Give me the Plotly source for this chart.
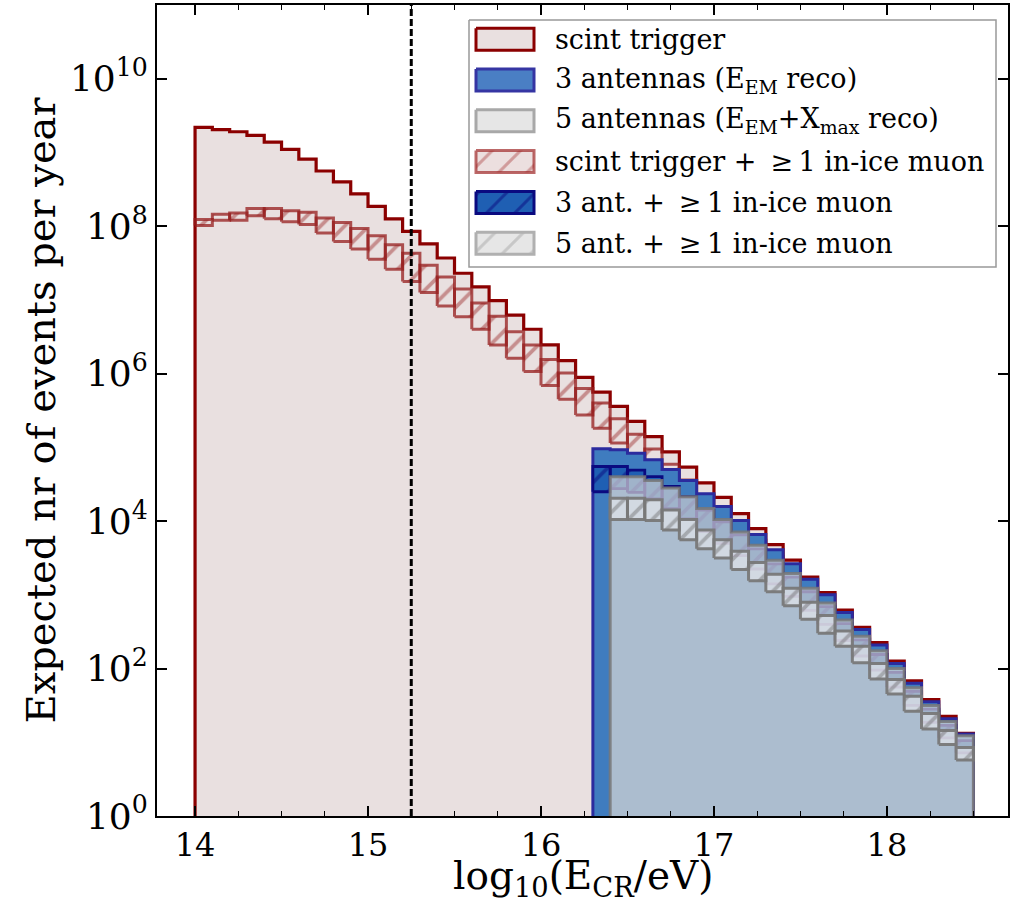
import plotly.graph_objects as go

# ---------------- data ----------------
BIN_START = 14.0          # lower edge of first log10(E/eV) bin
BIN_WIDTH = 0.1
N_BINS = 45               # 14.0 ... 18.5
THRESHOLD = 15.25         # vertical dashed line

# scint trigger (bins 14.0 .. 18.4)
scint_trigger = [2.19e9, 2.04e9, 1.91e9, 1.70e9, 1.38e9, 1.10e9, 8.1e8, 5.6e8, 4.0e8, 2.75e8,
                 1.86e8, 1.26e8, 8.5e7, 5.75e7, 3.7e7, 2.3e7, 1.5e7, 9.8e6, 6.2e6, 4.0e6,
                 2.45e6, 1.5e6, 8.9e5, 5.6e5, 3.6e5, 2.25e5, 1.4e5, 8.7e4, 5.4e4, 3.3e4,
                 2.1e4, 1.26e4, 7.9e3, 4.8e3, 2.95e3, 1.74e3, 1.07e3, 620, 363, 224,
                 126, 68, 38, 22.4, 13.2]
# scint trigger + >=1 in-ice muon (upper / lower edge of band, bins 14.0 .. 18.4)
scint_muon_hi = [1.23e8, 1.45e8, 1.51e8, 1.74e8, 1.74e8, 1.62e8, 1.55e8, 1.29e8, 1.12e8, 9.3e7,
                 7.4e7, 5.6e7, 4.3e7, 2.95e7, 2.04e7, 1.41e7, 9.1e6, 6.0e6, 3.7e6, 2.45e6,
                 1.55e6, 1.02e6, 6.3e5, 4.0e5, 2.45e5, 1.51e5, 9.5e4, 5.9e4, 3.6e4, 2.24e4,
                 1.41e4, 8.7e3, 5.5e3, 3.3e3, 2.04e3, 1.20e3, 740, 427, 251, 155,
                 87, 47, 26.3, 15.5, 9.1]
scint_muon_lo = [1.02e8, 1.20e8, 1.20e8, 1.38e8, 1.26e8, 1.15e8, 1.05e8, 8.1e7, 6.2e7, 4.9e7,
                 3.55e7, 2.6e7, 1.78e7, 1.26e7, 8.3e6, 5.9e6, 4.0e6, 2.45e6, 1.62e6, 1.07e6,
                 6.9e5, 4.5e5, 2.75e5, 1.82e5, 1.15e5, 7.2e4, 4.6e4, 2.8e4, 1.78e4, 1.10e4,
                 7.1e3, 4.5e3, 2.8e3, 1.74e3, 1.10e3, 660, 417, 245, 148, 93,
                 54, 29.5, 17, 10.2, 6.2]
# 3 antennas (E_EM reco), bins 16.3 .. 18.4
ANT3_START = 16.3
ant3 = [9.6e4, 9.3e4, 8.3e4, 6.8e4, 5.0e4, 3.55e4, 2.34e4, 1.58e4, 1.02e4, 6.6e3,
        4.1e3, 2.63e3, 1.62e3, 1.0e3, 575, 339, 209, 117, 63, 35.5, 20.9, 12.9]
ant3_muon_hi = [5.5e4, 5.5e4, 4.9e4, 4.0e4, 2.95e4, 2.14e4, 1.41e4, 9.8e3, 6.5e3, 4.2e3,
                2.63e3, 1.74e3, 1.10e3, 692, 407, 245, 155, 89, 49, 28.2, 17, 10.5]
ant3_muon_lo = [2.5e4, 2.75e4, 2.45e4, 2.0e4, 1.48e4, 1.07e4, 7.2e3, 5.0e3, 3.4e3, 2.24e3,
                1.41e3, 955, 617, 398, 240, 148, 95, 56, 31.6, 18.6, 11.5, 7.2]
# 5 antennas (E_EM + Xmax reco), bins 16.4 .. 18.4
ANT5_START = 16.4
ant5 = [4.0e4, 4.0e4, 3.55e4, 2.8e4, 2.14e4, 1.48e4, 1.05e4, 7.1e3, 4.7e3, 2.95e3,
        1.95e3, 1.23e3, 776, 457, 275, 174, 100, 55, 31.6, 19.1, 12.3]
ant5_muon_hi = [2.04e4, 2.04e4, 1.95e4, 1.41e4, 1.05e4, 7.6e3, 5.6e3, 3.9e3, 2.75e3, 1.9e3,
                1.23e3, 794, 525, 324, 200, 117, 71, 42, 24.5, 14.5, 8.5]
ant5_muon_lo = [1.05e4, 1.05e4, 1.02e4, 7.6e3, 5.6e3, 4.2e3, 3.16e3, 2.2e3, 1.55e3, 1.1e3,
                708, 468, 302, 200, 120, 72, 45, 26.3, 15.1, 9.3, 5.75]

x_tick_vals = [14, 15, 16, 17, 18]
y_tick_vals = [1e0, 1e2, 1e4, 1e6, 1e8, 1e10]
y_tick_text = ["10<sup>0</sup>", "10<sup>2</sup>", "10<sup>4</sup>", "10<sup>6</sup>",
               "10<sup>8</sup>", "10<sup>10</sup>"]
x_title = "log<sub>10</sub>(E<sub>CR</sub>/eV)"
y_title = "Expected nr of events per year"

legend_labels = [
    "scint trigger",
    "3 antennas (E<sub>EM</sub> reco)",
    "5 antennas (E<sub>EM</sub>+X<sub>max</sub> reco)",
    "scint trigger + \u2009\u2265\u20091 in-ice muon",
    "3 ant. + \u2009\u2265\u20091 in-ice muon",
    "5 ant. + \u2009\u2265\u20091 in-ice muon",
]

# ---------------- helpers ----------------
edges = [round(BIN_START + BIN_WIDTH * i, 2) for i in range(N_BINS + 1)]
FLOOR = 0.05  # below the visible range, clipped away


def idx(e):
    return int(round((e - BIN_START) / BIN_WIDTH))


def step_poly(start, vals):
    s = idx(start)
    xs, ys = [edges[s]], [FLOOR]
    for k, v in enumerate(vals):
        xs += [edges[s + k], edges[s + k + 1]]
        ys += [v, v]
    xs.append(edges[s + len(vals)])
    ys.append(FLOOR)
    return xs, ys


def box_poly(start, hi, lo):
    s = idx(start)
    xs, ys = [], []
    for k, (h, l) in enumerate(zip(hi, lo)):
        a, b = edges[s + k], edges[s + k + 1]
        xs += [a, b, b, a, a, None]
        ys += [l, l, h, h, l, None]
    return xs, ys


FONT = "DejaVu Serif"
fig = go.Figure()

# scint trigger
x, y = step_poly(BIN_START, scint_trigger)
fig.add_trace(go.Scatter(x=x, y=y, mode="lines", fill="toself", fillcolor="#e9e0e0",
                         line=dict(color="#8b0000", width=3.2), hoverinfo="skip", showlegend=False))
# scint + muon
x, y = box_poly(BIN_START, scint_muon_hi, scint_muon_lo)
fig.add_trace(go.Scatter(x=x, y=y, mode="lines", fill="toself", fillcolor="rgba(0,0,0,0)",
                         fillpattern=dict(shape="/", fgcolor="rgba(150,30,30,0.85)",
                                          bgcolor="rgba(0,0,0,0)", size=17, solidity=0.22),
                         line=dict(color="rgba(150,30,30,0.75)", width=3),
                         hoverinfo="skip", showlegend=False))
# 3 antennas
x, y = step_poly(ANT3_START, ant3)
fig.add_trace(go.Scatter(x=x, y=y, mode="lines", fill="toself", fillcolor="#3f7cbf",
                         line=dict(color="#2b2b9e", width=3), hoverinfo="skip", showlegend=False))
# 3 ant + muon
x, y = box_poly(ANT3_START, ant3_muon_hi, ant3_muon_lo)
fig.add_trace(go.Scatter(x=x, y=y, mode="lines", fill="toself", fillcolor="#1f5fb3",
                         fillpattern=dict(shape="/", fgcolor="#0a0a80", bgcolor="#1f5fb3",
                                          size=17, solidity=0.22),
                         line=dict(color="#0a0a80", width=2.8), hoverinfo="skip", showlegend=False))
# 5 antennas
x, y = step_poly(ANT5_START, ant5)
fig.add_trace(go.Scatter(x=x, y=y, mode="lines", fill="toself", fillcolor="rgba(230,225,215,0.65)",
                         line=dict(color="rgba(120,120,120,0.85)", width=3),
                         hoverinfo="skip", showlegend=False))
# 5 ant + muon
x, y = box_poly(ANT5_START, ant5_muon_hi, ant5_muon_lo)
fig.add_trace(go.Scatter(x=x, y=y, mode="lines", fill="toself", fillcolor="rgba(235,235,238,0.6)",
                         fillpattern=dict(shape="/", fgcolor="rgba(110,110,110,0.9)",
                                          bgcolor="rgba(235,235,238,0.6)", size=17, solidity=0.22),
                         line=dict(color="rgba(120,120,120,0.95)", width=3),
                         hoverinfo="skip", showlegend=False))

# threshold line
fig.add_shape(type="line", xref="x", yref="paper", x0=THRESHOLD, x1=THRESHOLD, y0=0, y1=1,
              line=dict(color="black", width=3, dash="7px,3px"), layer="above")

# ---------------- custom legend on a pixel overlay axis ----------------
PL, PR, PT, PB = 157, 1008, 5, 816
box_l, box_r, box_t, box_b = 469, 996, 20, 267
sw_l, sw_r, sw_h = 476, 534, 22
row0, row_dy = 39.2, 40.8
fig.add_trace(go.Scatter(x=[box_l, box_r, box_r, box_l, box_l], y=[box_t, box_t, box_b, box_b, box_t],
                         xaxis="x2", yaxis="y2", mode="lines", fill="toself",
                         fillcolor="rgba(255,255,255,0.85)", line=dict(color="#999999", width=1.5),
                         hoverinfo="skip", showlegend=False))
sw_styles = [
    dict(fill="#e9e0e0", edge="#8b0000", pat=None),
    dict(fill="#4a7fc4", edge="#3535a3", pat=None),
    dict(fill="#e6e6e6", edge="#a8a8a8", pat=None),
    dict(fill="#ecdfdf", edge="rgba(160,40,40,0.7)", pat="rgba(170,60,60,0.85)"),
    dict(fill="#1f5fb3", edge="#0a0a80", pat="#0a0a80"),
    dict(fill="#e6e6e6", edge="#b0b0b0", pat="#a8a8a8"),
]
for i, (lab, st) in enumerate(zip(legend_labels, sw_styles)):
    cy = row0 + row_dy * i
    t, b = cy - sw_h / 2, cy + sw_h / 2
    kw = {}
    if st["pat"]:
        kw["fillpattern"] = dict(shape="/", fgcolor=st["pat"], bgcolor=st["fill"], size=20, solidity=0.15)
    fig.add_trace(go.Scatter(x=[sw_l, sw_r, sw_r, sw_l, sw_l], y=[t, t, b, b, t],
                             xaxis="x2", yaxis="y2", mode="lines", fill="toself",
                             fillcolor=st["fill"], line=dict(color=st["edge"], width=3),
                             hoverinfo="skip", showlegend=False, **kw))
    fig.add_annotation(x=553, y=cy, xref="x2", yref="y2", text=lab, showarrow=False,
                       xanchor="left", yanchor="middle",
                       font=dict(family=FONT, size=27, color="black"))

# x-axis title as an annotation (placed just below the tick labels)
fig.add_annotation(x=0.5, y=-(851 - PB) / (PB - PT), xref="paper", yref="paper",
                   text=x_title, showarrow=False, xanchor="center", yanchor="top",
                   font=dict(family=FONT, size=39, color="black"))

axis_common = dict(showline=True, linecolor="black", linewidth=2, mirror="allticks",
                   ticks="inside", ticklen=10, tickwidth=1.5, tickcolor="black",
                   showgrid=False, zeroline=False, automargin=False)

fig.update_layout(
    width=1015, height=902,
    margin=dict(l=PL, r=1015 - PR, t=PT, b=902 - PB),
    paper_bgcolor="white", plot_bgcolor="white",
    font=dict(family=FONT, color="black"),
    xaxis=dict(range=[13.78, 18.70], tickvals=x_tick_vals, tickfont=dict(size=32),
               minor=dict(tick0=14, dtick=0.25, ticks="inside", ticklen=5, tickwidth=1.2,
                          tickcolor="black", showgrid=False),
               **axis_common),
    yaxis=dict(type="log", range=[0, 11], tickvals=y_tick_vals, ticktext=y_tick_text,
               tickfont=dict(size=36),
               title=dict(text=y_title, font=dict(size=40), standoff=2),
               **axis_common),
    xaxis2=dict(overlaying="x", range=[PL, PR], visible=False, anchor="y2", fixedrange=True),
    yaxis2=dict(overlaying="y", range=[PB, PT], visible=False, anchor="x2", fixedrange=True),
)

fig.write_html("out.html")
